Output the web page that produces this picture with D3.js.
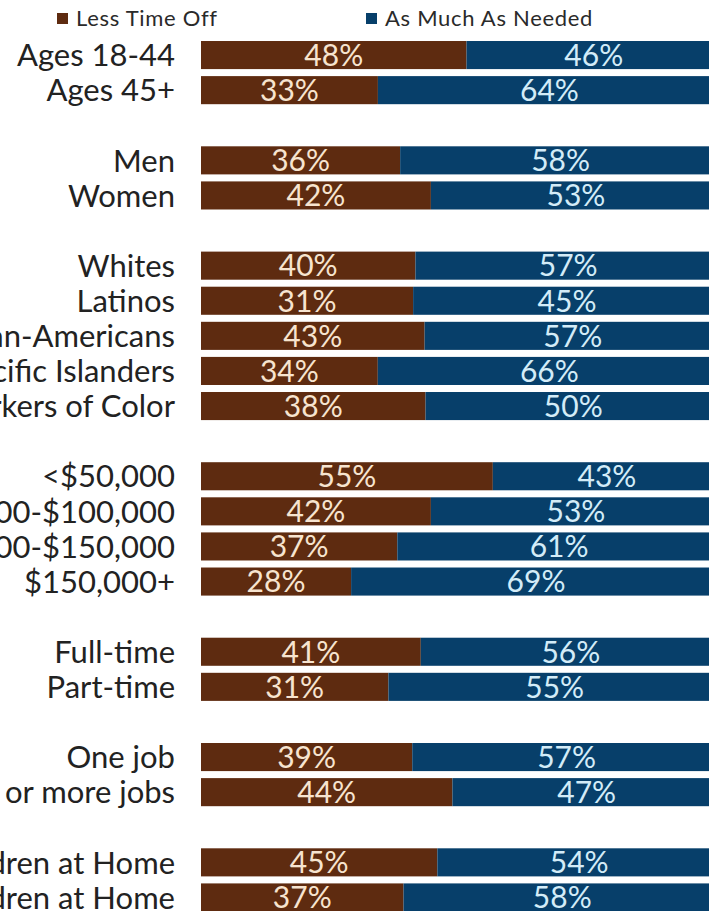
<!DOCTYPE html>
<html>
<head>
<meta charset="utf-8">
<script src="https://cdn.jsdelivr.net/npm/d3@7"></script>
<style>
  html, body { margin: 0; padding: 0; background: #fff; overflow: hidden; }
  svg { display: block; }
  text { font-family: Lato, "Open Sans", sans-serif; }
</style>
</head>
<body>
<svg id="chart" width="709" height="911"></svg>
<script>
// Time off taken, by demographic group
const categories = [
  "Ages 18-44", "Ages 45+",
  "Men", "Women",
  "Whites", "Latinos", "African-Americans", "Asian/Pacific Islanders", "Workers of Color",
  "<$50,000", "$50,000-$100,000", "$100,000-$150,000", "$150,000+",
  "Full-time", "Part-time",
  "One job", "Two or more jobs",
  "Children at Home", "No Children at Home"
];
const groupSizes = [2, 2, 5, 4, 2, 2, 2];
const lessTimeOff    = [48, 33, 36, 42, 40, 31, 43, 34, 38, 55, 42, 37, 28, 41, 31, 39, 44, 45, 37];
const asMuchAsNeeded = [46, 64, 58, 53, 57, 45, 57, 66, 50, 43, 53, 61, 69, 56, 55, 57, 47, 54, 58];
const seriesNames = ["Less Time Off", "As Much As Needed"];
const seriesKeys = ["less", "much"];
const colors = ["#5e2b10", "#073f6a"];
const labelColors = ["#f7e4cf", "#d3ecf8"];

// Row slots, with an empty slot between groups
const slots = [];
let ci = 0;
groupSizes.forEach((n, g) => {
  for (let i = 0; i < n; i++) slots.push(categories[ci++]);
  if (g < groupSizes.length - 1) slots.push("gap" + g);
});

const rows = categories.map((c, i) => ({ category: c, less: lessTimeOff[i], much: asMuchAsNeeded[i] }));

const svg = d3.select("#chart");

const x = d3.scaleLinear().domain([0, 1]).range([201, 721]);
const y = d3.scaleBand().domain(slots).range([37.5, 37.5 + 35.1 * slots.length])
  .paddingInner(0.2).paddingOuter(0.1);

const stacked = d3.stack().keys(seriesKeys).offset(d3.stackOffsetExpand)(rows);

const layers = svg.append("g").selectAll("g")
  .data(stacked).join("g")
  .attr("fill", (d, i) => colors[i]);

layers.selectAll("rect")
  .data(d => d)
  .join("rect")
  .attr("x", d => x(d[0]))
  .attr("width", d => x(d[1]) - x(d[0]))
  .attr("y", d => y(d.data.category))
  .attr("height", y.bandwidth());

// Value labels centred in each segment
stacked.forEach((layer, li) => {
  svg.append("g").selectAll("text")
    .data(layer).join("text")
    .attr("x", d => (x(d[0]) + x(d[1])) / 2)
    .attr("y", d => y(d.data.category) + y.bandwidth() / 2)
    .attr("dy", "0.36em")
    .attr("text-anchor", "middle")
    .attr("font-size", 30)
    .attr("fill", labelColors[li])
    .text(d => d.data[layer.key] + "%");
});

// Category axis
const yAxis = d3.axisLeft(y).tickSize(0).tickPadding(0)
  .tickValues(categories);
const axisG = svg.append("g").attr("transform", "translate(175,0)").call(yAxis);
axisG.select(".domain").remove();
axisG.selectAll("text")
  .attr("font-size", 31)
  .attr("font-family", "Lato, 'Open Sans', sans-serif")
  .attr("fill", "#222")
  .attr("dy", "0.36em");

// Legend
const legendX = [57, 366];
const legend = svg.append("g").selectAll("g")
  .data(seriesNames).join("g")
  .attr("transform", (d, i) => `translate(${legendX[i]},0)`);
legend.append("rect")
  .attr("x", 0).attr("y", 13).attr("width", 11).attr("height", 11)
  .attr("fill", (d, i) => colors[i]);
legend.append("text")
  .attr("x", 19).attr("y", 26)
  .attr("font-size", 22)
  .attr("letter-spacing", 0.7)
  .attr("fill", "#2a2a2a")
  .text(d => d);
</script>
</body>
</html>
